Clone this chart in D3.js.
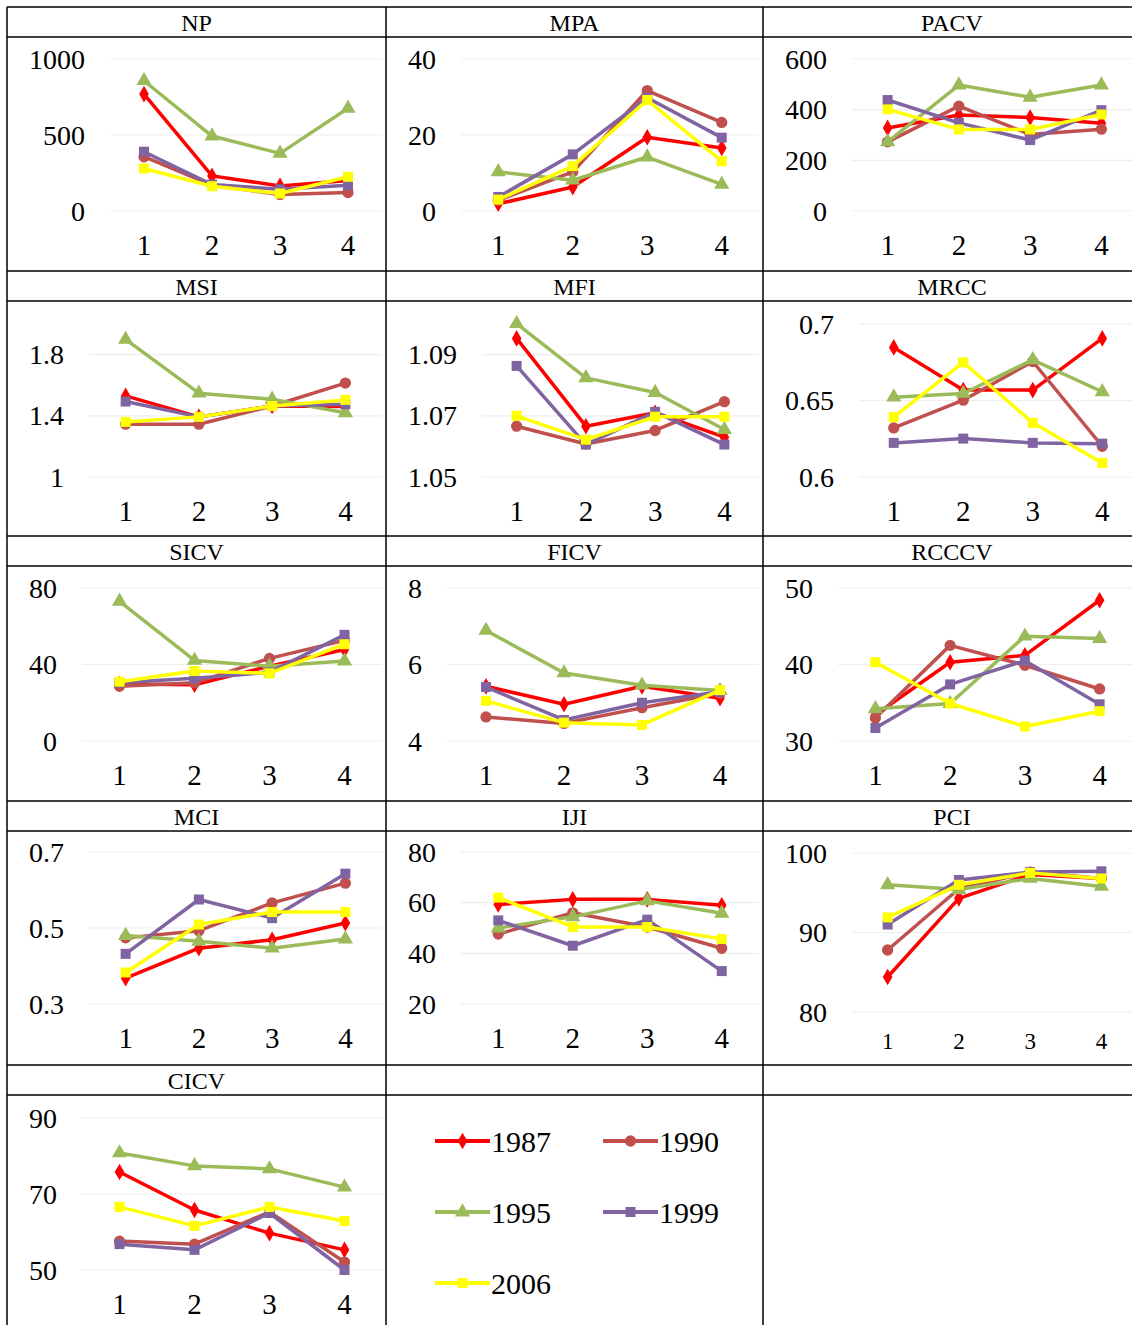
<!DOCTYPE html>
<html>
<head>
<meta charset="utf-8">
<script src="https://cdn.jsdelivr.net/npm/d3@7"></script>
<style>
  body { margin: 0; background: #fff; }
  text { font-family: "Liberation Serif", "Times New Roman", serif; fill: #000; }
</style>
</head>
<body>
<div id="chart"></div>
<script>
let years = ["1987", "1990", "1995", "1999", "2006"];
let colors = ["#FF0000", "#C0504D", "#9BBB59", "#8064A2", "#FFFF00"];
let markers = [d3.symbolDiamond, d3.symbolCircle, d3.symbolTriangle, d3.symbolSquare, d3.symbolSquare];
let periods = [1, 2, 3, 4];
let indices = ["NP", "MPA", "PACV", "MSI", "MFI", "MRCC", "SICV", "FICV", "RCCCV", "MCI", "IJI", "PCI", "CICV"];

// one row per year (1987, 1990, 1995, 1999, 2006), one value per period
let NP = [[769, 231, 165, 200], [357, 170, 108, 121], [857, 493, 379, 676], [390, 174, 143, 170], [280, 163, 115, 225]];
let MPA = [[1.9, 6.3, 19.4, 16.6], [2.8, 10.3, 31.7, 23.3], [10.3, 8.1, 14.2, 7.0], [3.7, 14.9, 29.8, 19.3], [3.0, 11.8, 29.2, 13.1]];
let PACV = [[328, 379, 369, 346], [273, 414, 302, 323], [273, 497, 449, 497], [438, 348, 280, 398], [401, 322, 322, 381]];
let MSI = [[1.53, 1.393, 1.464, 1.46], [1.345, 1.345, 1.464, 1.614], [1.899, 1.548, 1.508, 1.42], [1.493, 1.393, 1.464, 1.475], [1.36, 1.393, 1.464, 1.504]];
let MFI = [[1.0953, 1.0666, 1.071, 1.063], [1.0666, 1.0608, 1.0652, 1.0746], [1.1001, 1.0824, 1.0776, 1.0655], [1.0863, 1.0606, 1.0713, 1.0606], [1.07, 1.0622, 1.0697, 1.0697]];
let MRCC = [[0.6847, 0.6568, 0.6568, 0.6906], [0.6321, 0.6502, 0.6755, 0.6201], [0.6522, 0.6546, 0.6766, 0.6557], [0.6223, 0.6251, 0.6223, 0.6218], [0.6391, 0.6749, 0.6354, 0.6092]];
let SICV = [[29.8, 29.4, 39.1, 47.8], [28.6, 30.4, 43.2, 52.6], [73, 42.1, 39.1, 41.8], [30.5, 32.8, 35.9, 55.5], [31, 36.6, 35.4, 50.6]];
let FICV = [[5.43, 4.96, 5.43, 5.12], [4.63, 4.46, 4.87, 5.25], [6.89, 5.78, 5.46, 5.32], [5.41, 4.55, 5.0, 5.29], [5.05, 4.48, 4.42, 5.33]];
let RCCCV = [[33.4, 40.3, 41.2, 48.4], [33.0, 42.5, 39.9, 36.8], [34.2, 34.9, 43.7, 43.4], [31.7, 37.4, 40.5, 34.8], [40.3, 34.9, 31.9, 33.9]];
let MCI = [[0.368, 0.447, 0.469, 0.513], [0.474, 0.493, 0.566, 0.618], [0.48, 0.465, 0.447, 0.471], [0.432, 0.575, 0.526, 0.643], [0.383, 0.509, 0.542, 0.542]];
let IJI = [[59.3, 61.3, 61.3, 59], [47.6, 56, 50.4, 42], [50, 54.4, 60.7, 55.8], [53, 43, 53.3, 33], [62, 50.4, 50.4, 45.7]];
let PCI = [[84.4, 94.3, 97.3, 96.8], [87.8, 95.5, 97.6, 96.8], [96.0, 95.4, 96.8, 95.8], [91.0, 96.6, 97.6, 97.7], [91.9, 96.0, 97.5, 96.8]];
let CICV = [[75.8, 65.8, 59.7, 55.3], [57.6, 56.8, 65.3, 52.1], [80.8, 77.4, 76.6, 71.8], [56.8, 55.3, 65, 50], [66.6, 61.6, 66.6, 62.9]];

let yDomains = [[0, 1000], [0, 40], [0, 600], [1, 2], [1.05, 1.10], [0.6, 0.7], [0, 80], [4, 8], [30, 50], [0.3, 0.7], [20, 80], [80, 100], [50, 90]];
let yTicks = [[0, 500, 1000], [0, 20, 40], [0, 200, 400, 600], [1, 1.4, 1.8], [1.05, 1.07, 1.09], [0.6, 0.65, 0.7],
  [0, 40, 80], [4, 6, 8], [30, 40, 50], [0.3, 0.5, 0.7], [20, 40, 60, 80], [80, 90, 100], [50, 70, 90]];

let allValues = [NP, MPA, PACV, MSI, MFI, MRCC, SICV, FICV, RCCCV, MCI, IJI, PCI, CICV];

let svgWidth = 1132;
let svgHeight = 1325;

// table grid
let colX = [7, 386, 763, 1141];
let rowY = [7, 271, 536, 801, 1065, 1335];
let headerH = 30;
let plotTop = [59, 324, 588, 852, 1118];
let plotBottom = [211, 477, 741, 1004, 1270];

let svg = d3.select("#chart")
  .append("svg")
  .attr("width", svgWidth)
  .attr("height", svgHeight);

// grid lines of the table
let border = svg.append("g")
  .attr("stroke", "#000")
  .attr("stroke-width", 1.5);

colX.forEach(x => {
  border.append("line")
    .attr("x1", x).attr("x2", x)
    .attr("y1", rowY[0]).attr("y2", svgHeight);
});
rowY.slice(0, 5).forEach(y => {
  border.append("line").attr("x1", colX[0]).attr("x2", colX[3]).attr("y1", y).attr("y2", y);
  border.append("line").attr("x1", colX[0]).attr("x2", colX[3]).attr("y1", y + headerH).attr("y2", y + headerH);
});

let line = d3.line();

indices.forEach((name, i) => {
  let r = Math.floor(i / 3);
  let c = i % 3;
  let cx = colX[c];
  let right = colX[c + 1] - 4;
  let top = plotTop[r];
  let bottom = plotBottom[r];
  let xFont = 29;
  let xGap = 34;
  if (name === "PCI") { top = 853; bottom = 1012; xFont = 23; xGap = 29; }

  let chartGroup = svg.append("g");

  // header
  chartGroup.append("text")
    .attr("x", (cx + colX[c + 1]) / 2)
    .attr("y", rowY[r] + headerH / 2 + 1)
    .attr("text-anchor", "middle")
    .attr("dominant-baseline", "central")
    .attr("font-size", 24)
    .text(name);

  let yScale = d3.scaleLinear()
    .domain(yDomains[i])
    .range([bottom, top]);

  // y labels first, so the plot can start after the widest one
  let yLabels = chartGroup.selectAll(".ylab")
    .data(yTicks[i])
    .enter()
    .append("text")
    .attr("class", "ylab")
    .attr("y", d => yScale(d))
    .attr("dominant-baseline", "central")
    .attr("text-anchor", "end")
    .attr("font-size", 28)
    .text(d => String(d));
  let maxW = d3.max(yLabels.nodes(), n => n.getComputedTextLength());
  let left = cx + 22 + maxW + 25;
  yLabels.attr("x", left - 25);

  let xScale = d3.scalePoint()
    .domain(periods)
    .range([left, right])
    .padding(0.5);

  // gridlines
  chartGroup.selectAll(".grid")
    .data(yTicks[i])
    .enter()
    .append("line")
    .attr("x1", left)
    .attr("x2", right)
    .attr("y1", d => yScale(d))
    .attr("y2", d => yScale(d))
    .attr("stroke", "#eeeeee")
    .attr("stroke-width", 1.2);

  // x labels
  chartGroup.selectAll(".xlab")
    .data(periods)
    .enter()
    .append("text")
    .attr("x", d => xScale(d))
    .attr("y", bottom + xGap)
    .attr("text-anchor", "middle")
    .attr("dominant-baseline", "central")
    .attr("font-size", xFont)
    .text(d => d);

  // series
  allValues[i].forEach((vals, s) => {
    let pts = vals.map((v, k) => [xScale(periods[k]), yScale(v)]);
    chartGroup.append("path")
      .attr("d", line(pts))
      .attr("fill", "none")
      .attr("stroke", colors[s])
      .attr("stroke-width", 3.5)
      .attr("stroke-linejoin", "round");
    chartGroup.selectAll(null)
      .data(pts)
      .enter()
      .append("path")
      .attr("transform", d => `translate(${d[0]},${d[1]})`)
      .attr("d", d3.symbol().type(markers[s]).size(s === 0 ? 80 : 100))
      .attr("fill", colors[s]);
  });
});

// legend in the empty cell next to CICV
let legend = svg.append("g");
years.forEach((y, s) => {
  let lx = 435 + (s % 2) * 168;
  let ly = 1141 + Math.floor(s / 2) * 71;
  legend.append("line")
    .attr("x1", lx).attr("x2", lx + 55)
    .attr("y1", ly).attr("y2", ly)
    .attr("stroke", colors[s])
    .attr("stroke-width", 4);
  legend.append("path")
    .attr("transform", `translate(${lx + 27.5},${ly})`)
    .attr("d", d3.symbol().type(markers[s]).size(s === 0 ? 80 : 100))
    .attr("fill", colors[s]);
  legend.append("text")
    .attr("x", lx + 56)
    .attr("y", ly)
    .attr("dominant-baseline", "central")
    .attr("font-size", 30)
    .text(y);
});
</script>
</body>
</html>
